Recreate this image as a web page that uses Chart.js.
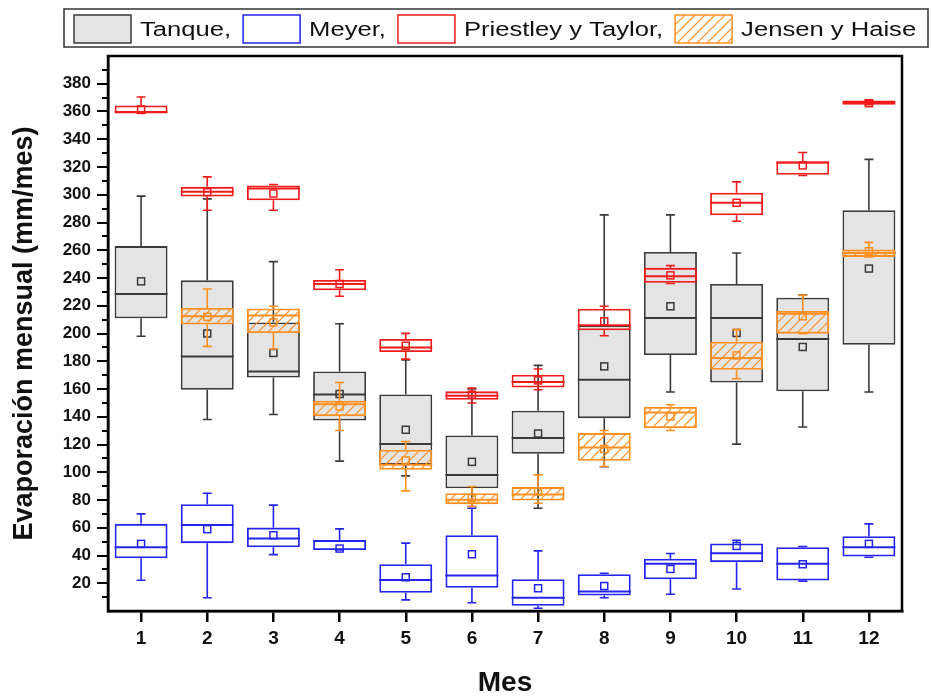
<!DOCTYPE html>
<html>
<head>
<meta charset="utf-8">
<title>Evaporación mensual</title>
<script src="https://cdn.jsdelivr.net/npm/chart.js@4.4.1/dist/chart.umd.min.js"></script>
<style>
  body { margin: 0; background: #fff; }
  #wrap { width: 932px; height: 697px; }
</style>
</head>
<body>
<div id="wrap"><canvas id="boxChart" width="932" height="697"></canvas></div>
<script>
const months = ['1', '2', '3', '4', '5', '6', '7', '8', '9', '10', '11', '12'];

// Tanque
const tanqueMin = [198, 138, 141.6, 108, 97.4, 75.3, 74.1, 104, 157.8, 120.3, 132.6, 157.8];
const tanqueQ1 = [211, 159.5, 168.3, 137.3, 105.4, 88.5, 113.3, 139, 184.5, 164.7, 158.3, 191.9];
const tanqueMed = [228.5, 183.5, 172.7, 156, 120.3, 98.1, 124.6, 166.7, 211.2, 211.2, 196, 258];
const tanqueQ3 = [263, 238.3, 208, 172.7, 156, 126.5, 144.4, 206, 258.8, 235.7, 225.8, 288.8];
const tanqueMax = [299, 297, 251.8, 207, 181, 160, 177, 285.5, 285.5, 258, 227.8, 325.5];
const tanqueMean = [237.6, 200, 186, 156.4, 130.6, 107.5, 127.9, 176.3, 219.6, 200.4, 190.3, 246.8];

// Meyer
const meyerMin = [22.2, 9.6, 40.6, 44, 8, 6, 2, 9.6, 12.1, 15.9, 21.5, 38.7];
const meyerQ1 = [38, 48.9, 46, 44, 13.2, 16.8, 3.8, 11.1, 22.9, 35.2, 21.9, 39.2];
const meyerMed = [46, 62, 52.2, 50.5, 22.4, 25.5, 9.6, 14, 34.1, 41.6, 34.1, 46];
const meyerQ3 = [62.8, 77, 60.1, 51, 33.7, 54.6, 22.9, 26.5, 37.7, 48.6, 46, 53.9];
const meyerMax = [70, 84.9, 76.3, 59.2, 48.9, 74.1, 43.3, 27.2, 41.4, 51, 46.5, 62.8];
const meyerMean = [48.4, 59, 54.6, 45, 24.3, 40.9, 16.4, 18, 30.3, 46.9, 33.7, 48.4];

// Priestley y Taylor
const ptMin = [358.6, 288.8, 288.8, 226.8, 181.5, 149.9, 159.5, 198.4, 236, 280.9, 313.9, 364.9];
const ptQ1 = [359.1, 298.7, 296, 231.1, 186.7, 152.3, 161.1, 202.3, 236.5, 285.2, 314.4, 364.9];
const ptMed = [359.5, 302.1, 304.5, 235.7, 190, 155.1, 165, 206, 241.2, 294.2, 323, 366.5];
const ptQ3 = [364.4, 305.7, 306.7, 238.6, 196, 158.3, 170.3, 217.9, 247.3, 301.4, 324.2, 368];
const ptMax = [370.4, 312.9, 307.4, 246, 200.1, 160.7, 174.4, 219.6, 248.9, 309.3, 330.5, 368];
const ptMean = [361.5, 301.8, 300.9, 235.7, 191.2, 155.9, 166.2, 208.8, 241.9, 294.2, 321.1, 366];

// Jensen y Haise (no data for month 1)
const jhMin = [null, 190.7, 188.8, 130.1, 86.6, 75.3, 77.7, 104.1, 130.1, 167.4, 199.9, 255.2];
const jhQ1 = [null, 206.4, 200.4, 140.5, 101.8, 77, 79.6, 108.2, 131.8, 173.9, 199.9, 255.2];
const jhMed = [null, 212.4, 212.9, 149, 105.4, 80.1, 83.9, 117.8, 143.1, 182.3, 214.3, 258.1];
const jhQ3 = [null, 218.4, 218.1, 151.5, 116.2, 84.9, 89.3, 128.2, 147, 194.1, 216.2, 260.5];
const jhMax = [null, 232.1, 219.6, 164.7, 122.2, 89.7, 98.1, 130.1, 148.6, 202.8, 227.5, 265.7];
const jhMean = [null, 212, 208, 147.4, 108.5, 81.3, 86.1, 116.7, 140.2, 184.2, 212.4, 259.3];

const FONT = "'Liberation Sans', Arial, sans-serif";
const ORANGE = '#ff8f1f';

function hatch(color) {
  const c = document.createElement('canvas');
  c.width = 10; c.height = 10;
  const g = c.getContext('2d');
  g.strokeStyle = color;
  g.lineWidth = 1.2;
  g.beginPath();
  g.moveTo(0, 10); g.lineTo(10, 0);
  g.moveTo(-2, 2); g.lineTo(2, -2);
  g.moveTo(8, 12); g.lineTo(12, 8);
  g.stroke();
  return g.createPattern(c, 'repeat');
}

function boxes(q1, q3) {
  return q1.map((v, i) => (v == null ? null : [v, q3[i]]));
}

function makeSet(label, q1, q3, stats, fill, border, order) {
  return {
    label: label,
    data: boxes(q1, q3),
    backgroundColor: fill,
    borderColor: border,
    borderWidth: 1.8,
    borderSkipped: false,
    grouped: false,
    barPercentage: 1,
    categoryPercentage: 0.8,
    order: order,
    stats: stats,
  };
}

// whiskers, medians and means on top of each dataset's boxes
const boxExtras = {
  id: 'boxExtras',
  afterDatasetDraw(chart, args) {
    const ds = chart.data.datasets[args.index];
    const s = ds.stats;
    const y = chart.scales.y;
    const ctx = chart.ctx;
    ctx.save();
    ctx.strokeStyle = ds.borderColor;
    args.meta.data.forEach((el, i) => {
      if (s.med[i] == null) return;
      const x = el.x, hw = el.width / 2;
      const yMin = y.getPixelForValue(s.min[i]);
      const yQ1 = y.getPixelForValue(s.q1[i]);
      const yMed = y.getPixelForValue(s.med[i]);
      const yQ3 = y.getPixelForValue(s.q3[i]);
      const yMax = y.getPixelForValue(s.max[i]);
      const yMean = y.getPixelForValue(s.mean[i]);
      ctx.lineWidth = 1.6;
      ctx.beginPath();
      ctx.moveTo(x, yQ3); ctx.lineTo(x, yMax);
      ctx.moveTo(x, yQ1); ctx.lineTo(x, yMin);
      ctx.moveTo(x - 4.5, yMax); ctx.lineTo(x + 4.5, yMax);
      ctx.moveTo(x - 4.5, yMin); ctx.lineTo(x + 4.5, yMin);
      ctx.stroke();
      ctx.lineWidth = 2;
      ctx.beginPath();
      ctx.moveTo(x - hw, yMed); ctx.lineTo(x + hw, yMed);
      ctx.stroke();
      ctx.lineWidth = 1.5;
      ctx.strokeRect(x - 3.5, yMean - 3.5, 7, 7);
    });
    ctx.restore();
  }
};

// box frame, minor ticks
const frame = {
  id: 'frame',
  afterDraw(chart) {
    const ctx = chart.ctx;
    const a = chart.chartArea;
    const y = chart.scales.y;
    ctx.save();
    ctx.strokeStyle = '#000';
    ctx.lineWidth = 2.5;
    ctx.strokeRect(a.left, a.top, a.right - a.left, a.bottom - a.top);
    ctx.lineWidth = 2;
    ctx.beginPath();
    for (let v = 10; v < 400; v += 20) {
      const py = Math.round(y.getPixelForValue(v));
      ctx.moveTo(a.left - 6, py); ctx.lineTo(a.left, py);
    }
    ctx.stroke();
    ctx.restore();
  }
};

// framed legend row above the plot, text drawn a little wide like the original
const wideLegend = {
  id: 'wideLegend',
  afterDraw(chart) {
    const ctx = chart.ctx;
    const stretch = 1.28;
    const sw = 57, sh = 28, top = 15;
    let x = 74;
    ctx.save();
    ctx.font = '20px ' + FONT;
    ctx.textBaseline = 'middle';
    ctx.fillStyle = '#111';
    chart.data.datasets.forEach((ds) => {
      ctx.fillStyle = ds.backgroundColor;
      ctx.fillRect(x, top, sw, sh);
      ctx.strokeStyle = ds.borderColor;
      ctx.lineWidth = 1.5;
      ctx.strokeRect(x, top, sw, sh);
      x += sw + 9;
      const w = ctx.measureText(ds.label).width * stretch;
      ctx.save();
      ctx.translate(x, top + sh / 2 + 1);
      ctx.scale(stretch, 1);
      ctx.fillStyle = '#111';
      ctx.fillText(ds.label, 0, 0);
      ctx.restore();
      x += w + 12;
    });
    ctx.strokeStyle = '#333';
    ctx.lineWidth = 1.5;
    ctx.strokeRect(64, 9, 864, 38);
    ctx.restore();
  }
};

const datasets = [
  makeSet('Tanque,', tanqueQ1, tanqueQ3,
    { min: tanqueMin, q1: tanqueQ1, med: tanqueMed, q3: tanqueQ3, max: tanqueMax, mean: tanqueMean },
    '#e4e4e4', '#3a3a3a', 4),
  makeSet('Meyer,', meyerQ1, meyerQ3,
    { min: meyerMin, q1: meyerQ1, med: meyerMed, q3: meyerQ3, max: meyerMax, mean: meyerMean },
    'rgba(0,0,0,0)', '#2424f0', 3),
  makeSet('Priestley y Taylor,', ptQ1, ptQ3,
    { min: ptMin, q1: ptQ1, med: ptMed, q3: ptQ3, max: ptMax, mean: ptMean },
    'rgba(0,0,0,0)', '#f21b1b', 2),
  makeSet('Jensen y Haise', jhQ1, jhQ3,
    { min: jhMin, q1: jhQ1, med: jhMed, q3: jhQ3, max: jhMax, mean: jhMean },
    hatch(ORANGE), ORANGE, 1),
];

new Chart(document.getElementById('boxChart'), {
  type: 'bar',
  data: { labels: months, datasets: datasets },
  plugins: [boxExtras, frame, wideLegend],
  options: {
    responsive: false,
    animation: false,
    devicePixelRatio: 1,
    layout: { padding: { left: 0, right: 30, top: 56, bottom: 0 } },
    plugins: {
      tooltip: { enabled: false },
      legend: { display: false },
    },
    scales: {
      x: {
        afterFit: (s) => { s.height = 86; },
        grid: { drawOnChartArea: false, offset: false, tickLength: 11, lineWidth: 2.5, color: '#000' },
        border: { display: true, width: 2.5, color: '#000' },
        ticks: { color: '#111', padding: 5, font: { family: FONT, size: 19, weight: 'bold' } },
        title: {
          display: true, text: 'Mes', color: '#111', padding: { top: 0, bottom: 0 },
          font: { family: FONT, size: 28, weight: 'bold', lineHeight: 1 },
        },
      },
      y: {
        min: 0,
        max: 400,
        afterFit: (s) => { s.width = 108; },
        grid: {
          drawOnChartArea: false, tickLength: 11, lineWidth: 2, color: '#000',
          tickColor: (c) => (c.tick && (c.tick.value === 0 || c.tick.value === 400) ? 'rgba(0,0,0,0)' : '#000'),
        },
        border: { display: true, width: 2.5, color: '#000' },
        ticks: {
          stepSize: 20,
          color: '#111',
          padding: 6,
          font: { family: FONT, size: 17, weight: 'bold' },
          callback: (v) => (v > 0 && v < 400 ? v : ''),
        },
        title: {
          display: true, text: 'Evaporación mensual (mm/mes)', color: '#111', padding: { top: 8, bottom: 0 },
          font: { family: FONT, size: 27, weight: 'bold', lineHeight: 1.2 },
        },
      },
    },
  },
});
</script>
</body>
</html>
